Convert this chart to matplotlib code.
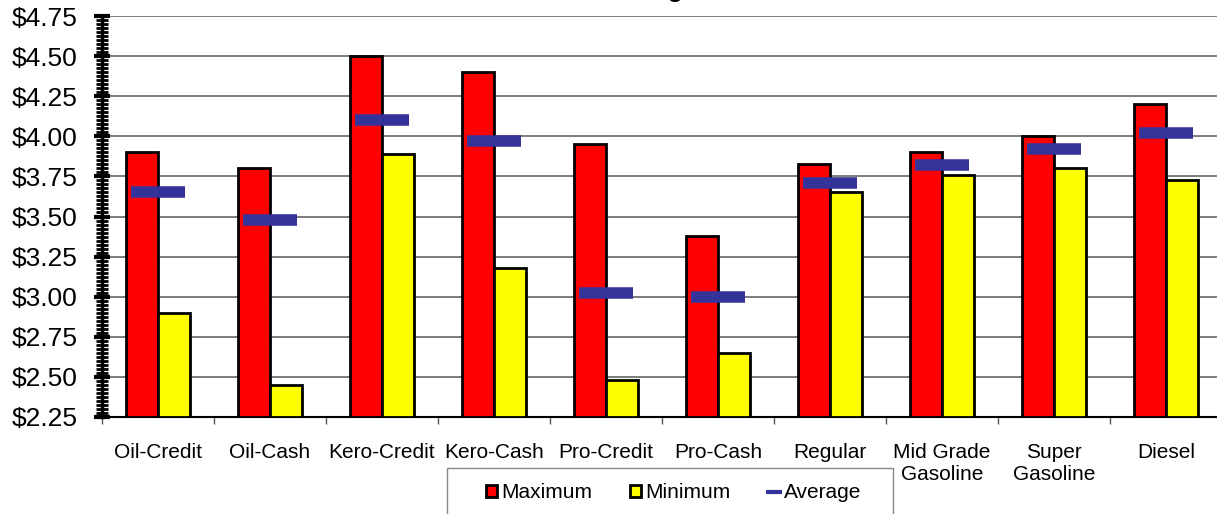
import matplotlib
matplotlib.use("Agg")
import matplotlib.pyplot as plt
import numpy as np
from matplotlib.ticker import MultipleLocator, FixedLocator, FuncFormatter
from matplotlib.lines import Line2D
from matplotlib.patches import Patch, Rectangle

categories = ["Oil-Credit", "Oil-Cash", "Kero-Credit", "Kero-Cash", "Pro-Credit",
              "Pro-Cash", "Regular", "Mid Grade\nGasoline", "Super\nGasoline", "Diesel"]
maximum = [3.90, 3.80, 4.50, 4.40, 3.95, 3.38, 3.83, 3.90, 4.00, 4.20]
minimum = [2.90, 2.45, 3.89, 3.18, 2.48, 2.65, 3.65, 3.76, 3.80, 3.73]
average = [3.65, 3.48, 4.10, 3.97, 3.02, 3.00, 3.71, 3.82, 3.92, 4.02]
series_names = ["Maximum", "Minimum", "Average"]
y_min, y_max = 2.25, 4.75

plt.rcParams['font.family'] = ['Liberation Sans', 'DejaVu Sans']

W, H = 1217, 514
fig = plt.figure(figsize=(W / 100, H / 100), dpi=100)
ax = fig.add_axes([102 / W, 1 - 417 / H, 1120 / W, (417 - 16) / H])

x = np.arange(len(categories))
bw = 0.285
ax.bar(x - bw / 2, [m - y_min for m in maximum], bw, bottom=y_min, color="#ff0000",
       edgecolor="black", linewidth=2, zorder=3)
ax.bar(x + bw / 2, [m - y_min for m in minimum], bw, bottom=y_min, color="#ffff00",
       edgecolor="black", linewidth=2, zorder=3)
for xi, a in zip(x, average):
    ax.plot([xi - 0.24, xi + 0.24], [a, a], color="#333399", linewidth=8.3,
            solid_capstyle="butt", zorder=4)

ax.set_xlim(-0.5, len(categories) - 0.5)
ax.set_ylim(y_min, y_max)

ax.yaxis.set_major_locator(MultipleLocator(0.25))
ax.yaxis.set_minor_locator(MultipleLocator(0.025))
ax.yaxis.set_major_formatter(FuncFormatter(lambda v, p: f"${v:.2f}"))
ax.tick_params(axis="y", which="major", direction="inout", length=11, width=3,
               labelsize=19, pad=12, color="black")
ax.tick_params(axis="y", which="minor", direction="inout", length=8, width=2, color="black")

ax.set_xticks(x)
ax.set_xticklabels(categories, fontsize=15, linespacing=1.2, va="top")
ax.xaxis.set_minor_locator(FixedLocator(np.arange(-0.5, len(categories), 1.0)))
ax.tick_params(axis="x", which="major", length=0, pad=19)
ax.tick_params(axis="x", which="minor", direction="out", length=5, width=1, color="#555555")

ax.grid(axis="y", which="major", color="#666666", linewidth=1.2, zorder=0)
ax.set_axisbelow(True)
for s in ["top", "right"]:
    ax.spines[s].set_visible(False)
ax.spines["left"].set_linewidth(2.5)
ax.spines["bottom"].set_linewidth(1.5)

# legend frame (extends below the figure edge like the reference)
fig.patches.append(Rectangle((447 / W, -0.1), 446 / W, (514 - 468) / H + 0.1,
                             transform=fig.transFigure, facecolor="white",
                             edgecolor="#888888", linewidth=1, clip_on=False))
handles = [Patch(facecolor="#ff0000", edgecolor="black", linewidth=2),
           Patch(facecolor="#ffff00", edgecolor="black", linewidth=2),
           Line2D([0], [0], color="#333399", linewidth=3)]
leg = fig.legend(handles, series_names, loc="center",
                 bbox_to_anchor=(673.5 / W, 1 - 493 / H), ncol=3, fontsize=15,
                 frameon=False, handlelength=0.55, handleheight=0.55, handletextpad=0.2,
                 columnspacing=1.8, borderpad=0, borderaxespad=0)

fig.text(683 / W, 1 + 3 / H, "Fuel Oil Pricing", ha="right", va="baseline",
         fontsize=18, fontweight="bold")

fig.savefig("out.png", dpi=100)
